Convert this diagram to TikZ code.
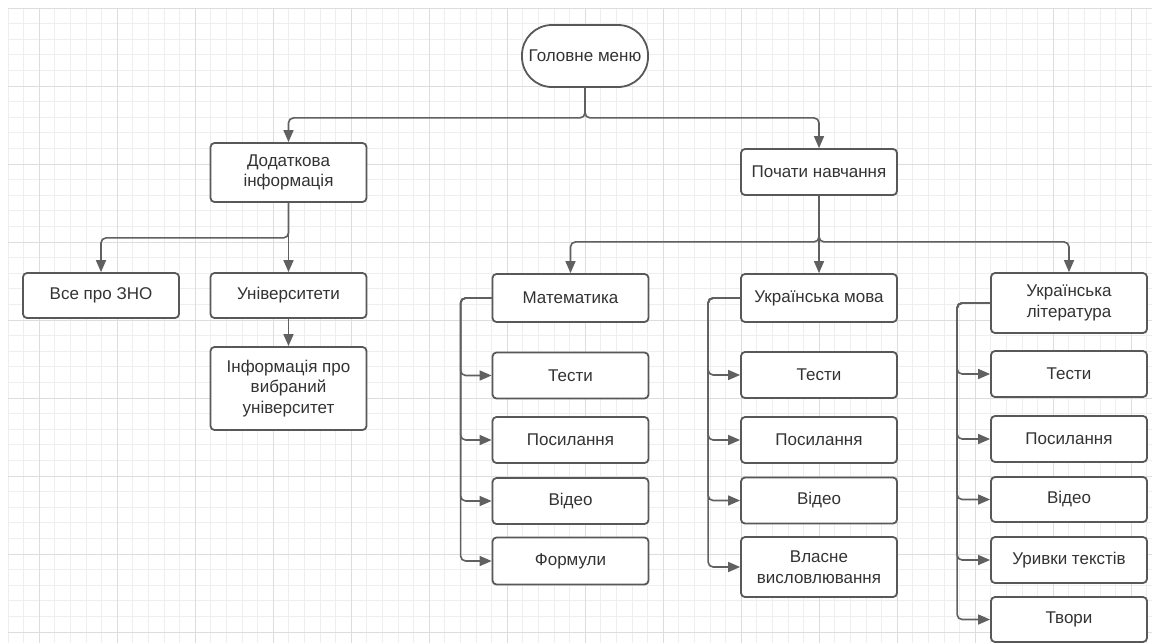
\documentclass[tikz,border=0pt]{standalone}
\usepackage{fontspec}
\setmainfont{Liberation Sans}
\usetikzlibrary{arrows.meta}
\definecolor{boxc}{HTML}{585858}
\definecolor{linec}{HTML}{606060}
\definecolor{txtc}{HTML}{333333}
\definecolor{gminor}{HTML}{EEEEEE}
\definecolor{gmajor}{HTML}{DDDDDD}
\tikzset{
  box/.style={draw=boxc, line width=1.8pt, rounded corners=4pt, fill=white,
    text=txtc, align=center, inner sep=0pt, minimum width=156pt,
    font=\fontsize{17}{20.5}\selectfont},
  arr/.style={draw=linec, line width=1.6pt, rounded corners=5pt,
    -{Triangle[length=12pt,width=10pt]}},
  minorgrid/.style={draw=gminor, line width=0.9pt},
  majorgrid/.style={draw=gmajor, line width=1pt}
}
\begin{document}
\begin{tikzpicture}[x=1pt,y=-1pt]
\useasboundingbox (0,0) rectangle (1152,643);
\fill[white] (0,0) rectangle (1152,643);
% grid
\foreach \i in {0,...,73}{\pgfmathsetmacro\xx{8+15.6*\i}\draw[minorgrid] (\xx,8) -- (\xx,643);}
\foreach \j in {0,...,40}{\pgfmathsetmacro\yy{8+15.6*\j}\draw[minorgrid] (8,\yy) -- (1152,\yy);}
\foreach \i in {2,7,...,72}{\pgfmathsetmacro\xx{8+15.6*\i}\draw[majorgrid] (\xx,8) -- (\xx,643);}
\foreach \j in {0,5,...,40}{\pgfmathsetmacro\yy{8+15.6*\j}\draw[majorgrid] (8,\yy) -- (1152,\yy);}

% nodes
\node[box, minimum width=126pt, minimum height=62pt, rounded corners=30pt] (menu) at (585,56) {Головне меню};
\node[box, minimum height=59pt] (dod) at (288.5,172.5) {Додаткова\\інформація};
\node[box, minimum height=46pt] (poch) at (819,172) {Почати навчання};
\node[box, minimum height=45pt] (zno) at (101,295.5) {Все про ЗНО};
\node[box, minimum height=45pt] (univ) at (288.5,295.5) {Університети};
\node[box, minimum height=83pt] (info) at (288.5,388.5) {Інформація про\\вибраний\\університет};

\node[box, minimum height=48pt] (mat) at (570.5,298) {Математика};
\node[box, minimum height=46pt] (mt) at (570.5,375.5) {Тести};
\node[box, minimum height=46pt] (ml) at (570.5,440) {Посилання};
\node[box, minimum height=46pt] (mv) at (570.5,501) {Відео};
\node[box, minimum height=47pt] (mf) at (570.5,561) {Формули};

\node[box, minimum height=48pt] (um) at (819,298) {Українська мова};
\node[box, minimum height=46pt] (ut) at (819,375) {Тести};
\node[box, minimum height=46pt] (ulk) at (819,440) {Посилання};
\node[box, minimum height=46pt] (uv) at (819,500.5) {Відео};
\node[box, minimum height=60pt] (uvl) at (819,567) {Власне\\висловлювання};

\node[box, minimum height=60pt] (ul) at (1069,303) {Українська\\література};
\node[box, minimum height=46pt] (lt) at (1069,374) {Тести};
\node[box, minimum height=46pt] (ll) at (1069,439) {Посилання};
\node[box, minimum height=45pt] (lv) at (1069,499.5) {Відео};
\node[box, minimum height=46pt] (lu) at (1069,560) {Уривки текстів};
\node[box, minimum height=45pt] (lw) at (1069,619.5) {Твори};

% connectors from main menu
\draw[arr] (menu.south) -- ++(0,30) -| (dod.north);
\draw[arr] (menu.south) -- ++(0,30) -| (poch.north);

% additional info branch
\draw[arr] (dod.south) -- ++(0,35) -| (zno.north);
\draw[arr] (dod.south) -- (univ.north);
\draw[arr] (univ.south) -- (info.north);

% start learning branch
\draw[arr] (poch.south) -- ++(0,46) -| (mat.north);
\draw[arr] (poch.south) -- (um.north);
\draw[arr] (poch.south) -- ++(0,46) -| (ul.north);

% subject lists
\foreach \c in {mt,ml,mv,mf}{\draw[arr] (mat.west) -- ++(-31,0) |- (\c.west);}
\foreach \c in {ut,ulk,uv,uvl}{\draw[arr] (um.west) -- ++(-32,0) |- (\c.west);}
\foreach \c in {lt,ll,lv,lu,lw}{\draw[arr] (ul.west) -- ++(-33,0) |- (\c.west);}
\end{tikzpicture}
\end{document}
